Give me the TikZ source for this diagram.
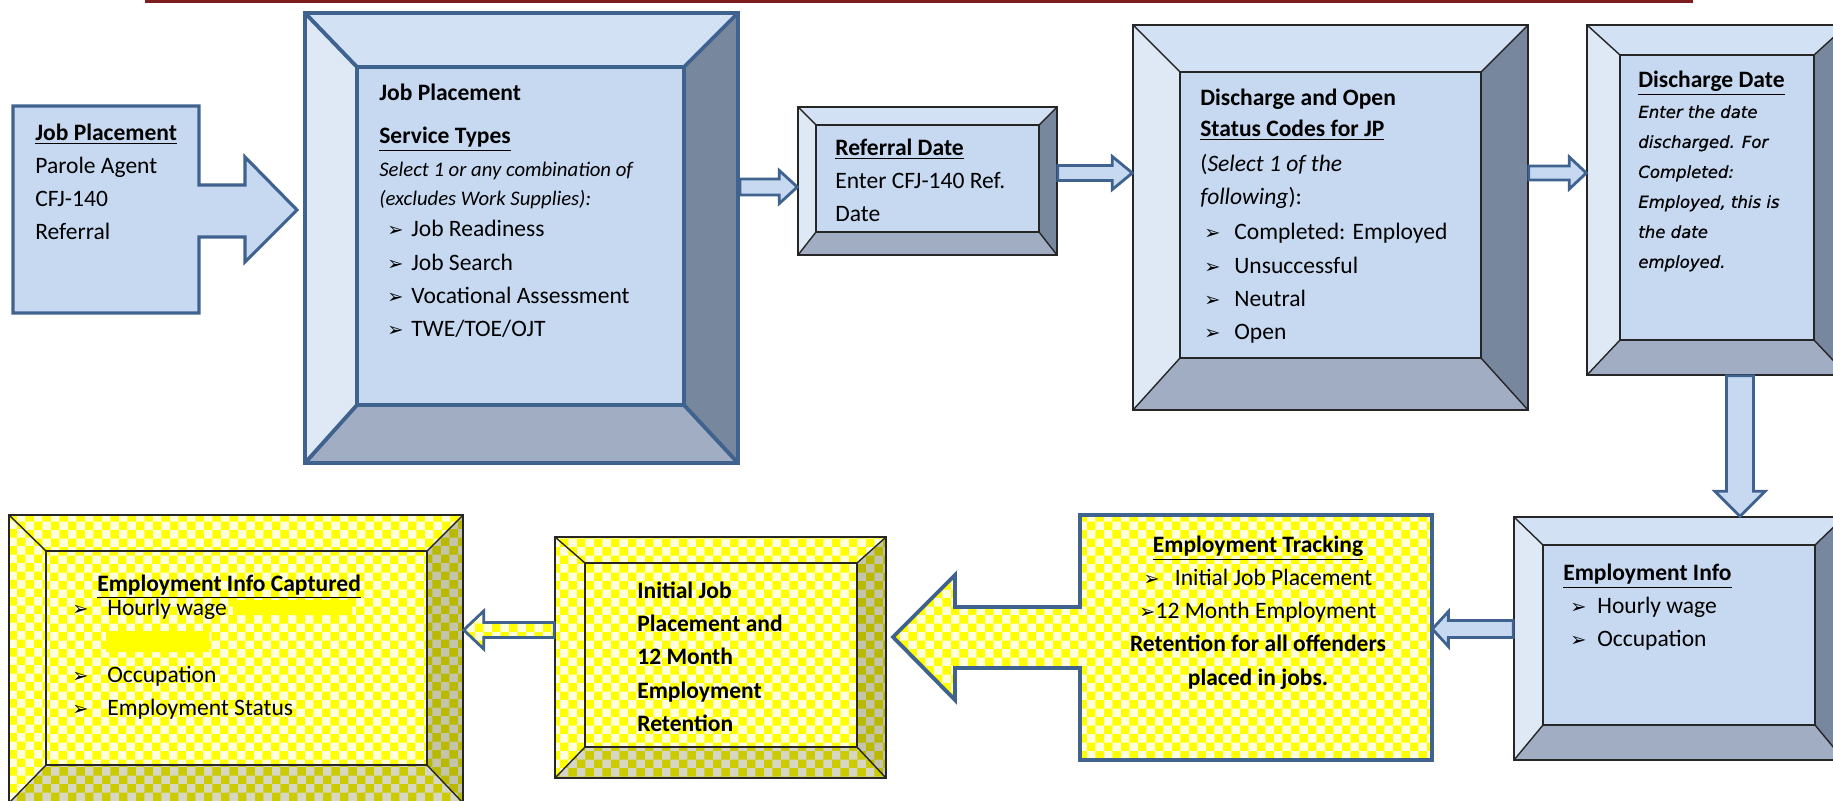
\documentclass[tikz,border=0pt]{standalone}
\usepackage{fontspec}
\setmainfont{Carlito}
\newfontfamily\arrfont{DejaVu Sans}
\newfontfamily\verd[FakeBold=0.8]{DejaVu Sans}
\usetikzlibrary{calc,fit,patterns}

\definecolor{faceblue}{HTML}{C6D9F1}
\definecolor{topblue}{HTML}{D3E1F4}
\definecolor{leftblue}{HTML}{DFE9F6}
\definecolor{rightblue}{HTML}{77879D}
\definecolor{botblue}{HTML}{A0ADC3}
\definecolor{edgeblue}{HTML}{3F628F}
\definecolor{linered}{HTML}{7D1E1E}
\definecolor{yel}{HTML}{FFFF00}
\definecolor{yelpale}{HTML}{FFFFDC}
\definecolor{yelolive}{HTML}{B9B900}
\definecolor{yelgrey}{HTML}{C4C4AA}

\pgfdeclarepatternformonly{chequer}{\pgfpointorigin}{\pgfqpoint{3.4mm}{3.4mm}}{\pgfqpoint{3.4mm}{3.4mm}}{%
  \pgfpathrectangle{\pgfpointorigin}{\pgfqpoint{1.7mm}{1.7mm}}%
  \pgfpathrectangle{\pgfqpoint{1.7mm}{1.7mm}}{\pgfqpoint{1.7mm}{1.7mm}}%
  \pgfusepath{fill}}

\newcommand\body{\fontsize{13.4pt}{18.8pt}\selectfont}
\newcommand\ital{\fontsize{11.8pt}{18.8pt}\selectfont\itshape}
\newcommand\arr{{\arrfont\fontsize{11pt}{11pt}\selectfont ➢}}
\newcommand\pnt[1]{\makebox[#1][l]{\arr}}
\newcommand\dd[1]{{\verd\itshape #1}}

\tikzset{
  blue face/.style={fill=faceblue}, blue top/.style={fill=topblue},
  blue left/.style={fill=leftblue}, blue right/.style={fill=rightblue},
  blue bot/.style={fill=botblue},
  yel face/.style={preaction={fill=yelpale}, pattern=chequer, pattern color=yel},
  yel top/.style={yel face}, yel left/.style={yel face},
  yel right/.style={preaction={fill=yelgrey}, pattern=chequer, pattern color=yelolive},
  yel bot/.style={preaction={fill=yelgrey!70!white}, pattern=chequer, pattern color=yelolive!75!yel},
  bevel line/.style={draw=black!85, line width=0.8pt},
  thick bevel/.style={draw=edgeblue, line width=2.2pt},
  arrowbox/.style={draw=edgeblue, line width=1.6pt, fill=faceblue, line join=miter},
  callout/.style={draw=edgeblue, line width=1.8pt, fill=faceblue, line join=miter},
  txt/.style={anchor=north west, inner sep=0pt, align=left, font=\body,
    execute at begin node=\strut},
}

% #1 line style, #2 name, #3 colour set, #4/#5 outer corners, #6/#7 inner corners
\newcommand\bevelbox[7][bevel line]{%
  \coordinate (#2-o1) at #4; \coordinate (#2-o3) at #5;
  \coordinate (#2-o2) at (#2-o3 |- #2-o1); \coordinate (#2-o4) at (#2-o1 |- #2-o3);
  \coordinate (#2-i1) at #6; \coordinate (#2-i3) at #7;
  \coordinate (#2-i2) at (#2-i3 |- #2-i1); \coordinate (#2-i4) at (#2-i1 |- #2-i3);
  \fill[#3 top] (#2-o1) -- (#2-o2) -- (#2-i2) -- (#2-i1) -- cycle;
  \fill[#3 right] (#2-o2) -- (#2-o3) -- (#2-i3) -- (#2-i2) -- cycle;
  \fill[#3 bot] (#2-o3) -- (#2-o4) -- (#2-i4) -- (#2-i3) -- cycle;
  \fill[#3 left] (#2-o4) -- (#2-o1) -- (#2-i1) -- (#2-i4) -- cycle;
  \fill[#3 face] (#2-i1) rectangle (#2-i3);
  \draw[#1] (#2-o1) -- (#2-i1) (#2-o2) -- (#2-i2) (#2-o3) -- (#2-i3) (#2-o4) -- (#2-i4);
  \draw[#1] (#2-i1) rectangle (#2-i3);
  \node[fit=(#2-o1)(#2-o3), inner sep=0pt, #1] (#2) {};
}

% #2 tail, #3 tip, #4 half shaft, #5 half head, #6 head length
\newcommand\blockarrow[6][]{%
  \path #2 coordinate (ba-t) #3 coordinate (ba-p);
  \path ($(ba-p)!#6!(ba-t)$) coordinate (ba-h);
  \filldraw[arrowbox,#1] ($(ba-t)!#4!90:(ba-p)$) -- ($(ba-h)!#4!90:(ba-p)$)
    -- ($(ba-h)!#5!90:(ba-p)$) -- (ba-p) -- ($(ba-h)!#5!-90:(ba-p)$)
    -- ($(ba-h)!#4!-90:(ba-p)$) -- ($(ba-t)!#4!-90:(ba-p)$) -- cycle;
}

\begin{document}
\begin{tikzpicture}[x=0.02cm,y=-0.02cm]
\useasboundingbox (0,0) rectangle (1833,801);
\fill[linered] (145,0) rectangle (1693,3);

% referral callout
\filldraw[callout] (13,106) -- (199,106) -- (199,185) -- (245,185) -- (245,157) -- (297,210)
  -- (245,262) -- (245,237) -- (199,237) -- (199,313) -- (13,313) -- cycle;
\node[txt] (agent) at (35,124) {\textbf{\underline{Job Placement}}\\Parole Agent\\CFJ-140\\Referral};

% top row
\bevelbox[thick bevel]{jpbox}{blue}{(305,13)}{(738,463)}{(357,67)}{(684,405)}
\node[txt] (jptext) at (379,84) {\textbf{Job Placement}\\[0.2cm]
  \textbf{\underline{Service Types}}\\
  {\ital Select 1 or any combination of}\\[-0.08cm]
  {\ital (excludes Work Supplies):}\\[-0.04cm]
  \hspace{0.16cm}\pnt{0.48cm}Job Readiness\\
  \hspace{0.16cm}\pnt{0.48cm}Job Search\\
  \hspace{0.16cm}\pnt{0.48cm}Vocational Assessment\\
  \hspace{0.16cm}\pnt{0.48cm}TWE/TOE/OJT};

\bevelbox{refbox}{blue}{(798,107)}{(1057,255)}{(816,125)}{(1039,232)}
\node[txt] (reftext) at (835,139) {\textbf{\underline{Referral Date}}\\Enter CFJ-140 Ref.\\Date};

\bevelbox{codebox}{blue}{(1133,25)}{(1528,410)}{(1180,72)}{(1481,358)}
\node[txt] (codetext) at (1200,89) {\textbf{Discharge and Open}\\[-0.04cm]
  \textbf{\underline{Status Codes for JP}}\\[0.04cm]
  (\textit{Select 1 of the}\\
  \textit{following}):\\[0.04cm]
  \hspace{0.08cm}\pnt{0.6cm}Completed: Employed\\
  \hspace{0.08cm}\pnt{0.6cm}Unsuccessful\\
  \hspace{0.08cm}\pnt{0.6cm}Neutral\\
  \hspace{0.08cm}\pnt{0.6cm}Open};

\bevelbox{datebox}{blue}{(1587,25)}{(1847,375)}{(1620,55)}{(1814,340)}
\node[txt, font=\fontsize{9.4pt}{17.07pt}\selectfont] (datetext) at (1638,71)
  {{\fontsize{13.4pt}{17.07pt}\selectfont\textbf{\underline{Discharge Date}}}\\
  \dd{Enter the date}\\\dd{discharged. For}\\\dd{Completed:}\\
  \dd{Employed, this is}\\\dd{the date}\\\dd{employed.}};

% bottom row
\bevelbox{infobox}{blue}{(1514,517)}{(1844,760)}{(1543,545)}{(1815,725)}
\node[txt] (infotext) at (1563,564) {\textbf{\underline{Employment Info}}\\
  \hspace{0.14cm}\pnt{0.54cm}Hourly wage\\
  \hspace{0.14cm}\pnt{0.54cm}Occupation};

\filldraw[draw=edgeblue, line width=2.2pt, line join=miter, yel face] (1432,515) -- (1432,760)
  -- (1080,760) -- (1080,668) -- (955,668) -- (955,700) -- (893,637) -- (955,575)
  -- (955,607) -- (1080,607) -- (1080,515) -- cycle;
\node[fit={(1080,515)(1432,760)}, inner sep=0pt] (trackbox) {};
\node[txt, anchor=north, align=center] (tracktext) at (1258,536)
  {\textbf{\underline{Employment Tracking}}\\
  \arr\hspace{0.3cm}Initial Job Placement\\
  \arr12 Month Employment\\
  \textbf{Retention for all offenders}\\
  \textbf{placed in jobs.}};

\bevelbox{initbox}{yel}{(555,537)}{(886,778)}{(585,563)}{(857,747)}
\node[txt] (inittext) at (637,582) {\textbf{Initial Job}\\\textbf{Placement and}\\
  \textbf{12 Month}\\\textbf{Employment}\\\textbf{Retention}};

\bevelbox{capbox}{yel}{(9,515)}{(463,803)}{(46,551)}{(427,765)}
\fill[yel] (233,600) rectangle (352,615) (106,631) rectangle (209,652);
\node[txt] (captitle) at (97,568) {\textbf{\underline{Employment Info Captured}}};
\node[txt] (captext) at (72,599) {\pnt{0.7cm}Hourly wage\\[0.67cm]
  \pnt{0.7cm}Occupation\\
  \pnt{0.7cm}Employment Status};

% connectors
\blockarrow{(jpbox.east |- 0,187)}{(refbox.west |- 0,187)}{0.16cm}{0.33cm}{0.36cm}
\blockarrow{(refbox.east |- 0,173)}{(codebox.west |- 0,173)}{0.15cm}{0.33cm}{0.4cm}
\blockarrow{(codebox.east |- 0,173)}{(datebox.west |- 0,173)}{0.14cm}{0.32cm}{0.34cm}
\blockarrow{(datebox.south -| 1740,0)}{(infobox.north -| 1740,0)}{0.27cm}{0.5cm}{0.5cm}
\blockarrow{(infobox.west |- 0,629)}{(trackbox.east |- 0,629)}{0.17cm}{0.35cm}{0.32cm}
\blockarrow[yel face]{(initbox.west |- 0,630)}{(capbox.east |- 0,630)}{0.15cm}{0.38cm}{0.4cm}
\end{tikzpicture}
\end{document}
